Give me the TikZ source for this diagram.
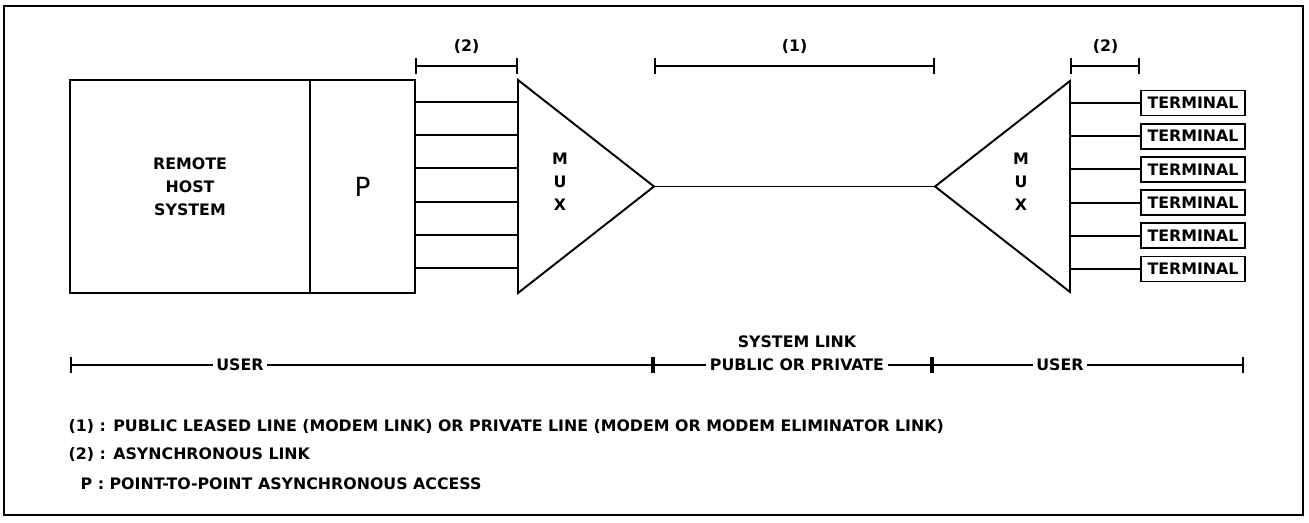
\documentclass[tikz,border=0pt]{standalone}
\usepackage{fontspec}
\setmainfont{DejaVu Sans}
\usepackage{tikz}
\usetikzlibrary{arrows.meta,positioning}

\begin{document}
\begin{tikzpicture}[x=0.02cm, y=-0.02cm, line width=1.1pt,
  every node/.style={font=\fontsize{9}{13}\selectfont\bfseries, inner sep=1pt},
  box/.style={draw, line width=1.1pt, outer sep=0pt, minimum height=4.26cm},
  term/.style={draw, line width=1.1pt, minimum width=2.08cm, minimum height=0.5cm, inner sep=0pt},
  dim/.style={line width=1pt, {Bar[width=0.32cm]}-{Bar[width=0.32cm]}},
  cut/.style={fill=white, inner sep=2pt}]
\useasboundingbox (0,0) rectangle (1309,523);
\draw[line width=1.3pt] (4,6) rectangle (1303,515);

% host side
\node[box, minimum width=4.8cm, align=center] (host) at (190,186.5) {REMOTE\\HOST\\SYSTEM};
\node[box, minimum width=2.1cm, right=0pt of host, font=\fontsize{15}{15}\selectfont] (p) {P};

% left mux
\coordinate (mlt) at (518,80);
\coordinate (mlb) at (518,293);
\coordinate (mla) at (654,186.5);
\draw (mlt) -- (mla) -- (mlb) -- cycle;
\node[align=center] (muxl) at (560,182) {M\\U\\X};
\foreach \i in {1,...,6} {
  \coordinate (in\i) at (518,{68.8+33.2*\i});
  \draw (p.east |- in\i) -- (in\i);
}

% right mux
\coordinate (mrt) at (1070,81);
\coordinate (mrb) at (1070,292);
\coordinate (mra) at (935,186.5);
\draw (mrt) -- (mra) -- (mrb) -- cycle;
\node[align=center] (muxr) at (1021,182) {M\\U\\X};
\foreach \i in {1,...,6} {
  \node[term] (t\i) at (1193,{69.8+33.2*\i}) {TERMINAL};
  \draw (mrt |- t\i) -- (t\i.west);
}

% system link
\draw (mla) -- (mra);

% top dimensions
\draw[dim] (p.east |- 0,66) coordinate (d2a) -- (mlt |- 0,66) coordinate (d2b);
\node (n2l) at (466.5,47) {(2)};
\draw[dim] (mla |- 0,66) coordinate (d1a) -- (mra |- 0,66) coordinate (d1b);
\node (n1) at (794.5,47) {(1)};
\draw[dim] (mrt |- 0,66) coordinate (d2c) -- (t1.west |- 0,66) coordinate (d2d);
\node (n2r) at (1105.5,47) {(2)};

% bottom dimension
\coordinate (u0) at (70,365);
\coordinate (u1) at (653,365);
\coordinate (u2) at (932,365);
\coordinate (u3) at (1244,365);
\draw[dim] (u0) -- (u1);
\draw[dim] (u1) -- (u2);
\draw[dim] (u2) -- (u3);
\node[cut] (user1) at (240,365) {USER};
\node[cut] (pub) at (797,365) {PUBLIC OR PRIVATE};
\node (sys) at (797,342) {SYSTEM LINK};
\node[cut] (user2) at (1060,365) {USER};

% legend
\node[anchor=west] (l1) at (66,427) {(1) : PUBLIC LEASED LINE (MODEM LINK) OR PRIVATE LINE (MODEM OR MODEM ELIMINATOR LINK)};
\node[anchor=west] (l2) at (66,455) {(2) : ASYNCHRONOUS LINK};
\node[anchor=west] (l3) at (78,484) {P : POINT-TO-POINT ASYNCHRONOUS ACCESS};
\end{tikzpicture}
\end{document}
